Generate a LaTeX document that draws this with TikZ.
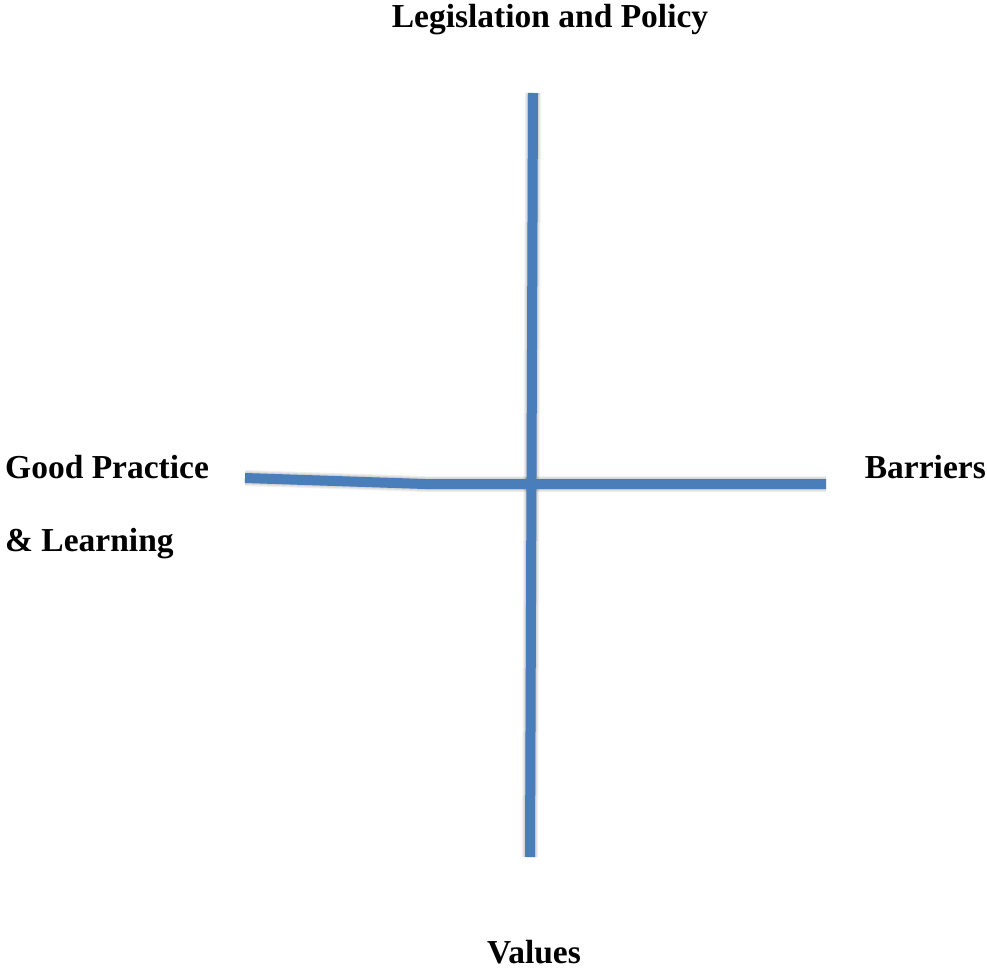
\documentclass[tikz,border=0pt]{standalone}
\usepackage{fontspec}
\setmainfont{Liberation Serif}
\definecolor{axisblue}{HTML}{4A7EBB}
\tikzset{
  axisline/.style={draw=axisblue,line width=10pt},
  shadowline/.style={draw=black,line width=#1,opacity=0.06},
  lbl/.style={inner sep=0pt,font=\fontsize{33.5}{38}\selectfont\bfseries}
}
\begin{document}
\begin{tikzpicture}[x=1pt,y=-1pt]
\useasboundingbox (0,0) rectangle (987,971);
\coordinate (vtop) at (533,93);
\coordinate (vbot) at (530,857);
\coordinate (hleft) at (245,478);
\coordinate (hkink) at (425,484);
\coordinate (hright) at (826,484);
% soft shadows
\foreach \w in {10pt,12pt,14pt,16pt}{
  \draw[shadowline=\w,shift={(3,5)}] (vtop) -- (vbot);
  \draw[shadowline=\w,shift={(3,5)}] (hleft) -- (hkink) -- (hright);
}
\draw[axisline] (vtop) -- (vbot);
\draw[axisline] (hleft) -- (hkink) -- (hright);
\node[lbl,anchor=base] (top) at (550,28) {Legislation and Policy};
\node[lbl,anchor=base west] (gp) at (5,478) {Good Practice};
\node[lbl,anchor=base west] (lr) at (5,551) {\& Learning};
\node[lbl,anchor=base east] (bar) at (986,478) {Barriers};
\node[lbl,anchor=base] (val) at (534,963) {Values};
\end{tikzpicture}
\end{document}
